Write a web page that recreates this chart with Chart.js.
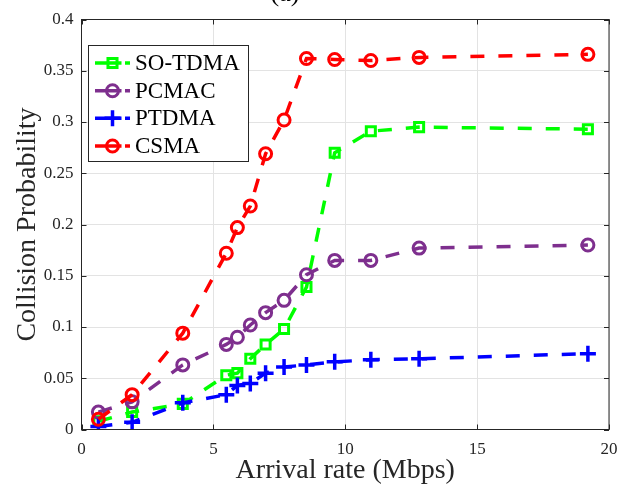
<!DOCTYPE html>
<html>
<head>
<meta charset="utf-8">
<script src="https://cdn.jsdelivr.net/npm/chart.js@4/dist/chart.umd.min.js"></script>
<style>
  html, body { margin: 0; padding: 0; background: #ffffff; }
  #wrap { width: 621px; height: 490px; position: relative; }
</style>
</head>
<body>
<div id="wrap"><canvas id="c" width="621" height="490"></canvas></div>
<script>
// Arrival rate (Mbps) at each measured point
const arrivalRate = [0.64, 1.92, 3.84, 5.49, 5.91, 6.4, 6.98, 7.68, 8.53, 9.6, 10.97, 12.8, 19.2];

// Collision probability per protocol
const soTdma = [0.008, 0.017, 0.025, 0.053, 0.055, 0.069, 0.083, 0.098, 0.139, 0.270, 0.291, 0.295, 0.293];
const pcmac  = [0.017, 0.027, 0.063, 0.083, 0.090, 0.102, 0.114, 0.126, 0.151, 0.165, 0.165, 0.177, 0.180];
const ptdma  = [0.003, 0.007, 0.026, 0.034, 0.043, 0.045, 0.055, 0.061, 0.063, 0.066, 0.068, 0.069, 0.074];
const csma   = [0.010, 0.034, 0.094, 0.172, 0.197, 0.218, 0.269, 0.302, 0.362, 0.361, 0.360, 0.363, 0.366];

const seriesNames = ['SO-TDMA', 'PCMAC', 'PTDMA', 'CSMA'];
const xTickLabels = ['0', '5', '10', '15', '20'];
const yTickLabels = ['0', '0.05', '0.1', '0.15', '0.2', '0.25', '0.3', '0.35', '0.4'];

const SERIF = "'Liberation Serif', 'Times New Roman', serif";
const AXIS_COLOR = '#262626';

function toPoints(ys) {
  return ys.map((y, i) => ({ x: arrivalRate[i], y }));
}

const styles = [
  { color: '#00ff00', marker: 'rect',   radius: 6.4, markerWidth: 3 },
  { color: '#7e2f8e', marker: 'circle', radius: 6,   markerWidth: 3 },
  { color: '#0000ff', marker: 'cross',  radius: 8,   markerWidth: 3.5 },
  { color: '#ff0000', marker: 'circle', radius: 6,   markerWidth: 3 }
];
const values = [soTdma, pcmac, ptdma, csma];

const datasets = values.map((ys, i) => ({
  label: seriesNames[i],
  data: toPoints(ys),
  borderColor: styles[i].color,
  backgroundColor: 'rgba(0,0,0,0)',
  borderWidth: 3.5,
  borderDash: [14, 14],
  borderCapStyle: 'butt',
  tension: 0,
  pointStyle: styles[i].marker,
  pointRadius: styles[i].radius,
  pointHoverRadius: styles[i].radius,
  pointBorderColor: styles[i].color,
  pointBackgroundColor: 'rgba(0,0,0,0)',
  pointBorderWidth: styles[i].markerWidth,
  order: 4 - i
}));

// Axes box with inward tick marks on all four sides, plus the boxed legend
const framePlugin = {
  id: 'frame',
  afterDraw(chart) {
    const { ctx, chartArea: a, scales } = chart;
    ctx.save();
    ctx.strokeStyle = AXIS_COLOR;
    ctx.lineWidth = 1;
    ctx.setLineDash([]);
    ctx.strokeRect(a.left, a.top, a.right - a.left, a.bottom - a.top);
    const tl = 5;
    ctx.beginPath();
    scales.x.ticks.forEach(t => {
      const px = Math.round(scales.x.getPixelForValue(t.value)) + 0.5;
      ctx.moveTo(px, a.bottom); ctx.lineTo(px, a.bottom - tl);
      ctx.moveTo(px, a.top); ctx.lineTo(px, a.top + tl);
    });
    scales.y.ticks.forEach(t => {
      const py = Math.round(scales.y.getPixelForValue(t.value)) + 0.5;
      ctx.moveTo(a.left, py); ctx.lineTo(a.left + tl, py);
      ctx.moveTo(a.right, py); ctx.lineTo(a.right - tl, py);
    });
    ctx.stroke();

    // panel caption, mostly above the canvas edge
    ctx.fillStyle = '#000000';
    ctx.font = '26px ' + SERIF;
    ctx.textAlign = 'center';
    ctx.textBaseline = 'alphabetic';
    ctx.fillText('(a)', 285, 1);

    // legend
    const box = { x: 88.5, y: 45.5, w: 160, h: 116 };
    ctx.fillStyle = '#ffffff';
    ctx.fillRect(box.x, box.y, box.w, box.h);
    ctx.strokeStyle = AXIS_COLOR;
    ctx.lineWidth = 1;
    ctx.strokeRect(box.x, box.y, box.w, box.h);
    const rowY = [63, 90.7, 118.3, 146];
    chart.data.datasets.forEach((ds, i) => {
      const y = rowY[i];
      ctx.strokeStyle = ds.borderColor;
      ctx.lineWidth = ds.borderWidth;
      ctx.lineCap = 'butt';
      ctx.setLineDash([26.5, 3.5]);
      ctx.beginPath();
      ctx.moveTo(95, y); ctx.lineTo(130, y);
      ctx.stroke();
      ctx.setLineDash([]);
      ctx.fillStyle = 'rgba(0,0,0,0)';
      ctx.strokeStyle = ds.pointBorderColor;
      ctx.lineWidth = ds.pointBorderWidth;
      Chart.helpers.drawPoint(ctx, {
        pointStyle: ds.pointStyle,
        radius: ds.pointRadius,
        borderWidth: ds.pointBorderWidth,
        rotation: 0
      }, 112.5, y);
      ctx.fillStyle = '#000000';
      ctx.font = '23px ' + SERIF;
      ctx.textAlign = 'left';
      ctx.textBaseline = 'middle';
      ctx.fillText(ds.label, 135, y + 1);
    });
    ctx.restore();
  }
};

new Chart(document.getElementById('c'), {
  type: 'line',
  data: { datasets },
  options: {
    responsive: false,
    animation: false,
    devicePixelRatio: 1,
    layout: { padding: { top: 19.5, right: 12, left: 0, bottom: 0 } },
    plugins: {
      legend: { display: false },
      tooltip: { enabled: false },
      title: { display: false }
    },
    scales: {
      x: {
        type: 'linear',
        min: 0,
        max: 20,
        afterFit(scale) {
          scale.height = 60.5;
          scale.paddingLeft = 0;
          scale.paddingRight = 0;
        },
        ticks: {
          stepSize: 5,
          padding: 10,
          color: AXIS_COLOR,
          font: { family: SERIF, size: 17 },
          callback: (v) => xTickLabels[Math.round(v / 5)]
        },
        grid: { color: '#e3e3e3', lineWidth: 1, drawTicks: false },
        border: { display: false },
        title: {
          display: true,
          text: 'Arrival rate (Mbps)',
          color: AXIS_COLOR,
          font: { family: SERIF, size: 28 },
          padding: { top: 0, bottom: 3 }
        }
      },
      y: {
        min: 0,
        max: 0.4,
        afterFit(scale) {
          scale.width = 81.5;
          scale.paddingTop = 0;
          scale.paddingBottom = 0;
        },
        ticks: {
          stepSize: 0.05,
          padding: 8,
          color: AXIS_COLOR,
          font: { family: SERIF, size: 17 },
          callback: (v) => yTickLabels[Math.round(v / 0.05)]
        },
        grid: { color: '#e3e3e3', lineWidth: 1, drawTicks: false },
        border: { display: false },
        title: {
          display: true,
          text: 'Collision Probability',
          color: AXIS_COLOR,
          font: { family: SERIF, size: 28 },
          padding: { top: 11, bottom: 0 }
        }
      }
    }
  },
  plugins: [framePlugin]
});
</script>
</body>
</html>
